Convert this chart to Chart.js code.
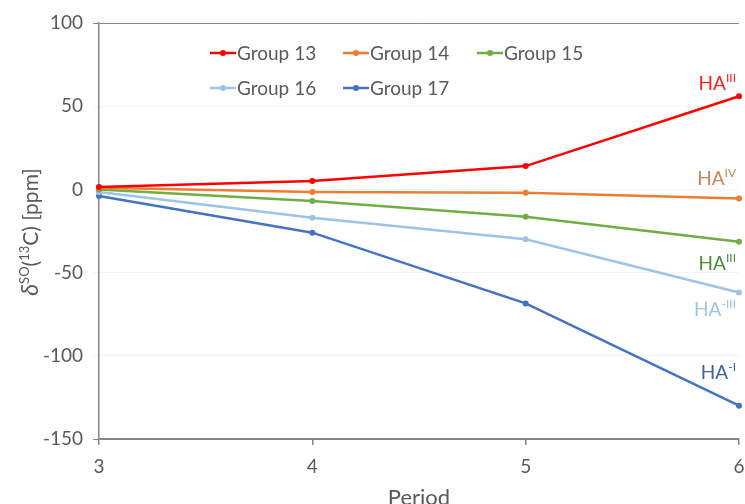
<!DOCTYPE html>
<html>
<head>
<meta charset="utf-8">
<script src="https://cdn.jsdelivr.net/npm/chart.js@4/dist/chart.umd.min.js"></script>
<style>
html,body{margin:0;padding:0;background:#fff;}
#wrap{width:745px;height:504px;position:relative;}
</style>
</head>
<body>
<div id="wrap"><canvas id="c" width="745" height="504"></canvas></div>
<script>
// ---- data ----
const periods = ['3', '4', '5', '6'];
const seriesNames = ['Group 13', 'Group 14', 'Group 15', 'Group 16', 'Group 17'];
const group13 = [1.5, 5, 14, 56];
const group14 = [1, -1.5, -2, -5.5];
const group15 = [0, -7, -16.5, -31.5];
const group16 = [-1.5, -17, -30, -62];
const group17 = [-4, -26, -68.5, -130];
const yTicks = [-150, -100, -50, 0, 50, 100];
// end-of-line annotations: main text, superscript, y value (data units)
const annotMain = ['HA', 'HA', 'HA', 'HA', 'HA'];
const annotSup = ['III', 'IV', 'III', '-III', '-I'];
const annotY = [64, 7, -44, -72, -110];

const lineColors = ['#FF0000', '#ED7D31', '#70AD47', '#9DC3E6', '#4472C4'];
const annotColors = ['#FF2020', '#D0805A', '#4E8A38', '#9DC3E6', '#3F5FA8'];
const FONT = 'Lato, "Open Sans", sans-serif';

const values = [group13, group14, group15, group16, group17];
const datasets = values.map((v, i) => ({
  label: seriesNames[i],
  data: v,
  borderColor: lineColors[i],
  backgroundColor: lineColors[i],
  borderWidth: 2.5,
  pointRadius: 3,
  pointHoverRadius: 3,
  pointBorderWidth: 0,
  tension: 0
}));

const overlay = {
  id: 'overlay',
  afterDraw(chart) {
    const ctx = chart.ctx;
    const ca = chart.chartArea;
    const xs = chart.scales.x, ys = chart.scales.y;
    ctx.save();
    // legend (Excel-like grid)
    const colX = [ca.left + 111, ca.left + 244, ca.left + 378];
    const rowY = [ca.top + 30, ca.top + 65];
    ctx.font = '19px ' + FONT;
    ctx.textBaseline = 'middle';
    ctx.textAlign = 'left';
    seriesNames.forEach((name, i) => {
      const cx = colX[i % 3], cy = rowY[Math.floor(i / 3)];
      ctx.strokeStyle = lineColors[i];
      ctx.lineWidth = 2.5;
      ctx.beginPath(); ctx.moveTo(cx, cy); ctx.lineTo(cx + 26, cy); ctx.stroke();
      ctx.fillStyle = lineColors[i];
      ctx.beginPath(); ctx.arc(cx + 13, cy, 3, 0, Math.PI * 2); ctx.fill();
      ctx.fillStyle = '#595959';
      ctx.fillText(name, cx + 27, cy + 1);
    });
    // annotations
    const xr = xs.getPixelForValue(periods.length - 1) - 3;
    annotMain.forEach((m, i) => {
      const y = ys.getPixelForValue(annotY[i]);
      ctx.font = '12px ' + FONT;
      const sw = ctx.measureText(annotSup[i]).width;
      ctx.font = '19px ' + FONT;
      const mw = ctx.measureText(m).width;
      ctx.fillStyle = annotColors[i];
      ctx.textAlign = 'left';
      ctx.textBaseline = 'alphabetic';
      ctx.fillText(m, xr - sw - mw, y + 7);
      ctx.font = '12px ' + FONT;
      ctx.fillText(annotSup[i], xr - sw, y - 1);
    });
    // y-axis title
    ctx.save();
    ctx.translate(38, 232);
    ctx.rotate(-Math.PI / 2);
    ctx.fillStyle = '#595959';
    ctx.textBaseline = 'alphabetic';
    const parts = [
      ['δ', 'italic 23px ' + FONT, 0],
      ['SO', '13px ' + FONT, -9],
      ['(', '21px ' + FONT, 0],
      ['13', '13px ' + FONT, -9],
      ['C) [ppm]', '21px ' + FONT, 0]
    ];
    let total = 0;
    parts.forEach(p => { ctx.font = p[1]; total += ctx.measureText(p[0]).width; });
    let x = -total / 2;
    parts.forEach(p => {
      ctx.font = p[1];
      ctx.fillText(p[0], x, p[2]);
      x += ctx.measureText(p[0]).width;
    });
    ctx.restore();
    // x-axis title
    ctx.font = '22px ' + FONT;
    ctx.fillStyle = '#595959';
    ctx.textAlign = 'center';
    ctx.textBaseline = 'middle';
    ctx.fillText('Period', (ca.left + ca.right) / 2, ca.bottom + 59);
    ctx.restore();
  }
};

new Chart(document.getElementById('c'), {
  type: 'line',
  data: { labels: periods, datasets },
  options: {
    responsive: false,
    animation: false,
    layout: { padding: { top: 23, right: 6, left: 0, bottom: 0 } },
    plugins: { legend: { display: false }, tooltip: { enabled: false } },
    scales: {
      x: {
        type: 'category',
        offset: false,
        border: { display: true, color: '#868686', width: 1.5 },
        grid: { display: true, drawOnChartArea: false, drawTicks: true, tickLength: 6, color: '#868686', lineWidth: 1.5 },
        ticks: { color: '#595959', font: { family: FONT, size: 19 }, padding: 10, maxRotation: 0 },
        afterFit(s) { s.height = 65; s.paddingRight = 0; s.paddingLeft = 0; }
      },
      y: {
        min: -150, max: 100,
        afterBuildTicks(s) { s.ticks = yTicks.map(v => ({ value: v })); },
        border: { display: true, color: '#868686', width: 1.5 },
        grid: { display: true, drawOnChartArea: true, drawTicks: true, tickLength: 6, color: (c) => c.tick && (c.tick.value === -150 || c.tick.value === 100) ? '#868686' : '#F3F3F3', lineWidth: 1 },
        ticks: { color: '#595959', font: { family: FONT, size: 19 }, padding: 10 },
        afterFit(s) { s.width = 99; s.paddingTop = 0; s.paddingBottom = 0; }
      }
    }
  },
  plugins: [overlay]
});
</script>
</body>
</html>
